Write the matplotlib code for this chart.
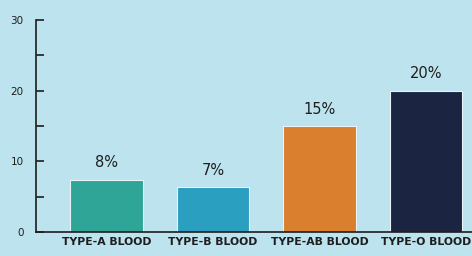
import matplotlib
matplotlib.use("Agg")
import matplotlib.pyplot as plt

categories = ["TYPE-A BLOOD", "TYPE-B BLOOD", "TYPE-AB BLOOD", "TYPE-O BLOOD"]
values = [7.4, 6.4, 15, 20]
labels = ["8%", "7%", "15%", "20%"]
colors = ["#2ea597", "#2a9fc0", "#d97f2e", "#1b2441"]

bg = "#bde3ee"
ink = "#1e1e1e"

fig = plt.figure(figsize=(4.72, 2.56), dpi=100, facecolor=bg)
ax = fig.add_axes([0.0763, 0.094, 0.9237, 0.828], facecolor=bg)

x = range(len(categories))
ax.bar(x, values, width=0.68, color=colors, edgecolor="#e8f4f8", linewidth=0.8)
for xi, v, lab in zip(x, values, labels):
    ax.text(xi, v + 1.3, lab, ha="center", va="bottom", fontsize=10.5, color=ink)

ax.set_xlim(-0.66, 3.43)
ax.set_ylim(0, 30)
ax.set_yticks([0, 10, 20, 30])
ax.set_yticks([5, 15, 25], minor=True)
ax.set_xticks(list(x))
ax.set_xticklabels(categories, fontsize=7.8, color=ink, fontweight="bold")
for t in ax.get_yticklabels():
    t.set_fontsize(7.5)
    t.set_color(ink)

ax.tick_params(axis="y", which="both", direction="in", length=6, width=1.2,
               color=ink, pad=9)
ax.tick_params(axis="x", length=0, pad=4)
for s in ["top", "right"]:
    ax.spines[s].set_visible(False)
for s in ["left", "bottom"]:
    ax.spines[s].set_color(ink)
    ax.spines[s].set_linewidth(1.2)

fig.savefig("out.png", dpi=100, facecolor=bg)
